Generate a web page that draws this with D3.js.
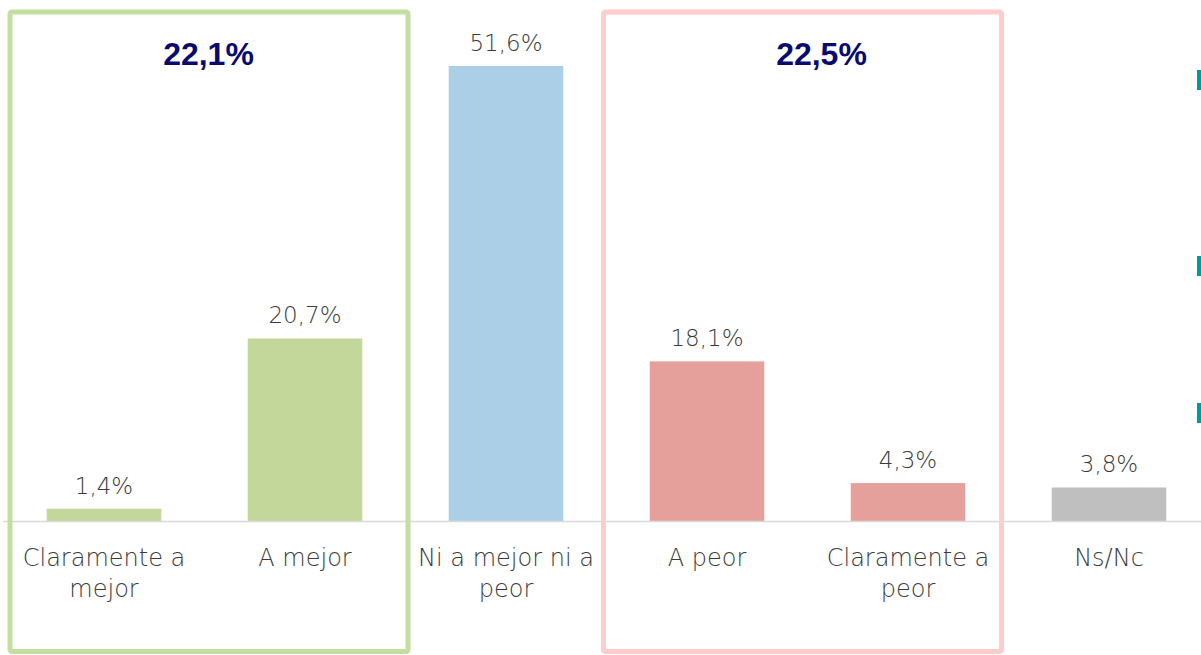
<!DOCTYPE html>
<html>
<head>
<meta charset="utf-8">
<script src="https://cdn.jsdelivr.net/npm/d3@7"></script>
<style>
  body { margin: 0; background: #fff; }
  svg { display: block; }
</style>
</head>
<body>
<div id="chart"></div>
<script>
// categories and values
const categories = ['Claramente a mejor', 'A mejor', 'Ni a mejor ni a peor', 'A peor', 'Claramente a peor', 'Ns/Nc'];
const labelLines = [['Claramente a', 'mejor'], ['A mejor'], ['Ni a mejor ni a', 'peor'], ['A peor'], ['Claramente a', 'peor'], ['Ns/Nc']];
const values = [1.4, 20.7, 51.6, 18.1, 4.3, 3.8];
const barColors = ['#c4d79b', '#c4d79b', '#abcfe6', '#e5a09c', '#e5a09c', '#bfbfbf'];

// grouped totals shown in the framed boxes
const groupFrom = [0, 3];
const groupTo = [1, 4];
const groupTotals = ['22,1%', '22,5%'];
const groupStrokes = ['#c2df9f', '#ffcccc'];
// small nudges so the frames sit where the original has them
const boxShift = [4.5, -5];
const totalShift = [4, 14];

const width = 1201, height = 655;
const baseY = 521;

const fmt = v => d3.format('.1f')(v).replace('.', ',') + '%';

const svg = d3.select('#chart').append('svg')
    .attr('width', width)
    .attr('height', height);

const x = d3.scaleBand()
    .domain(categories)
    .range([3.5, 1209.5])
    .paddingInner(0.43)
    .paddingOuter(0.215);

const y = d3.scaleLinear()
    .domain([0, d3.max(values)])
    .range([baseY, 66]);

const data = categories.map((c, i) => ({cat: c, value: values[i], color: barColors[i], lines: labelLines[i]}));

const textFont = '"DejaVu Sans", sans-serif';

// bars
svg.selectAll('rect.bar')
    .data(data)
    .enter()
    .append('rect')
    .attr('class', 'bar')
    .attr('x', d => x(d.cat))
    .attr('width', x.bandwidth())
    .attr('y', d => y(d.value))
    .attr('height', d => baseY - y(d.value))
    .style('fill', d => d.color);

// baseline
svg.append('line')
    .attr('x1', 3).attr('x2', width)
    .attr('y1', baseY + 0.5).attr('y2', baseY + 0.5)
    .style('stroke', '#d9d9d9')
    .style('stroke-width', 1.5);

// value labels
svg.selectAll('text.val')
    .data(data)
    .enter()
    .append('text')
    .attr('class', 'val')
    .attr('x', d => x(d.cat) + x.bandwidth() / 2)
    .attr('y', d => y(d.value) - 15)
    .attr('text-anchor', 'middle')
    .style('font-family', textFont)
    .style('font-weight', 200)
    .style('font-size', '23px')
    .style('fill', '#3a3a3a')
    .text(d => fmt(d.value));

// category labels (two lines where the original wraps)
const cats = svg.selectAll('text.cat')
    .data(data)
    .enter()
    .append('text')
    .attr('class', 'cat')
    .attr('text-anchor', 'middle')
    .style('font-family', textFont)
    .style('font-weight', 200)
    .style('font-size', '24px')
    .style('fill', '#3a3a3a');

cats.selectAll('tspan')
    .data(d => d.lines.map(l => ({l, cx: x(d.cat) + x.bandwidth() / 2})))
    .enter()
    .append('tspan')
    .attr('x', t => t.cx)
    .attr('y', (t, i) => 566 + i * 31)
    .text(t => t.l);

// framed boxes for grouped totals
const step = x.step();
groupTotals.forEach((total, i) => {
    const left = x(categories[groupFrom[i]]) + x.bandwidth() / 2 - step / 2;
    const right = x(categories[groupTo[i]]) + x.bandwidth() / 2 + step / 2;
    const cx = (left + right) / 2;
    svg.append('rect')
        .attr('x', cx + boxShift[i] - 199)
        .attr('y', 12)
        .attr('width', 398)
        .attr('height', 639.5)
        .attr('rx', 2)
        .style('fill', 'none')
        .style('stroke', groupStrokes[i])
        .style('stroke-width', 5);
    svg.append('text')
        .attr('x', cx + totalShift[i])
        .attr('y', 65)
        .attr('text-anchor', 'middle')
        .style('font-family', '"Liberation Sans", Arial, sans-serif')
        .style('font-weight', 'bold')
        .style('font-size', '32px')
        .style('fill', '#0a0a6e')
        .text(total);
});

// clipped legend markers at the right edge
const marks = [70, 256, 403];
svg.selectAll('rect.mark')
    .data(marks)
    .enter()
    .append('rect')
    .attr('class', 'mark')
    .attr('x', 1197)
    .attr('y', d => d)
    .attr('width', 5)
    .attr('height', 20)
    .style('fill', '#009b9b');
</script>
</body>
</html>
